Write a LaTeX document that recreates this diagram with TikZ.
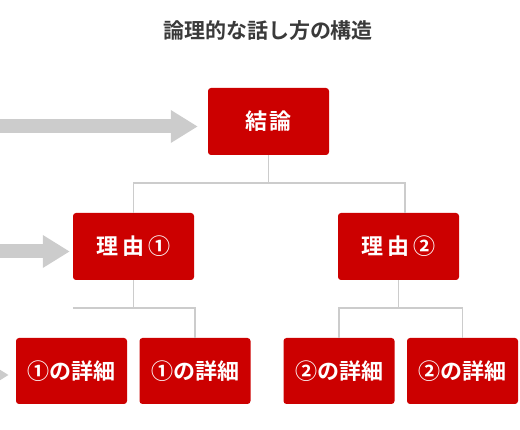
\documentclass[tikz,border=0pt]{standalone}
\usepackage{fontspec}
\setmainfont{Noto Sans CJK JP}[BoldFont={Noto Sans CJK JP Bold}]
\usepackage{xcolor}
\usetikzlibrary{arrows.meta}
\definecolor{boxred}{HTML}{CC0000}
\definecolor{linegray}{HTML}{CCCCCC}
\definecolor{titlegray}{HTML}{3A3A3A}
\tikzset{
  redbox/.style={fill=boxred, rounded corners=3pt, text=white, inner sep=0pt,
    font=\fontsize{22}{26}\selectfont\bfseries},
  bigbox/.style={redbox, minimum width=121pt, minimum height=67pt},
  smallbox/.style={redbox, minimum width=111pt, minimum height=66pt},
  branch/.style={draw=linegray, line width=1.5pt},
  feed/.style={draw=linegray, line width=14pt, -{Triangle[length=27pt, width=31pt]}}
}

\begin{document}
\begin{tikzpicture}[x=1pt, y=1pt]
            \useasboundingbox (0,0) rectangle (520,430);
            \clip (0,0) rectangle (520,430);
            \coordinate (edge) at (0,0);

            % Title
            \node[text=titlegray, font=\fontsize{21}{25}\selectfont\bfseries] (title) at (268,399) {論理的な話し方の構造};

            % Conclusion and reasons
            \node[bigbox] (concl) at (268.5,308.5) {結\hspace{3pt}論};
            \node[bigbox] (r1) at (133.5,183.5) {理\hspace{4pt}由\hspace{4pt}①};
            \node[bigbox] (r2) at (398.5,183.5) {理\hspace{4pt}由\hspace{4pt}②};

            % Details
            \node[smallbox] (d11) at (71.5,59) {①の詳細};
            \node[smallbox] (d12) at (195,59) {①の詳細};
            \node[smallbox] (d21) at (339,59) {②の詳細};
            \node[smallbox] (d22) at (462.5,59) {②の詳細};

            % Tree lines
            \draw[branch] (concl.south) -- ++(0,-28) coordinate (j0);
            \draw[branch] (r1.north) |- (j0) -| ([xshift=6.5pt]r2.north);
            \draw[branch] (r1.south) -- ++(0,-28) coordinate (j1);
            \draw[branch] (j1 -| r1.west) -- (j1) -| (d12.north);
            \draw[branch] (r2.south) -- ++(0,-28) coordinate (j2);
            \draw[branch] (d21.north) |- (j2) -| (d22.north);

            % Gray arrows from the left
            \draw[feed] ([yshift=-5pt]concl.west -| edge) -- ([xshift=-10pt, yshift=-5pt]concl.west);
            \draw[feed] ([yshift=-5pt]r1.west -| edge) -- ([xshift=-3pt, yshift=-5pt]r1.west);
            \draw[feed] ([xshift=-40pt, yshift=-4pt]d11.west -| edge) -- ([xshift=-7pt, yshift=-4pt]d11.west);
        \end{tikzpicture}
\end{document}
